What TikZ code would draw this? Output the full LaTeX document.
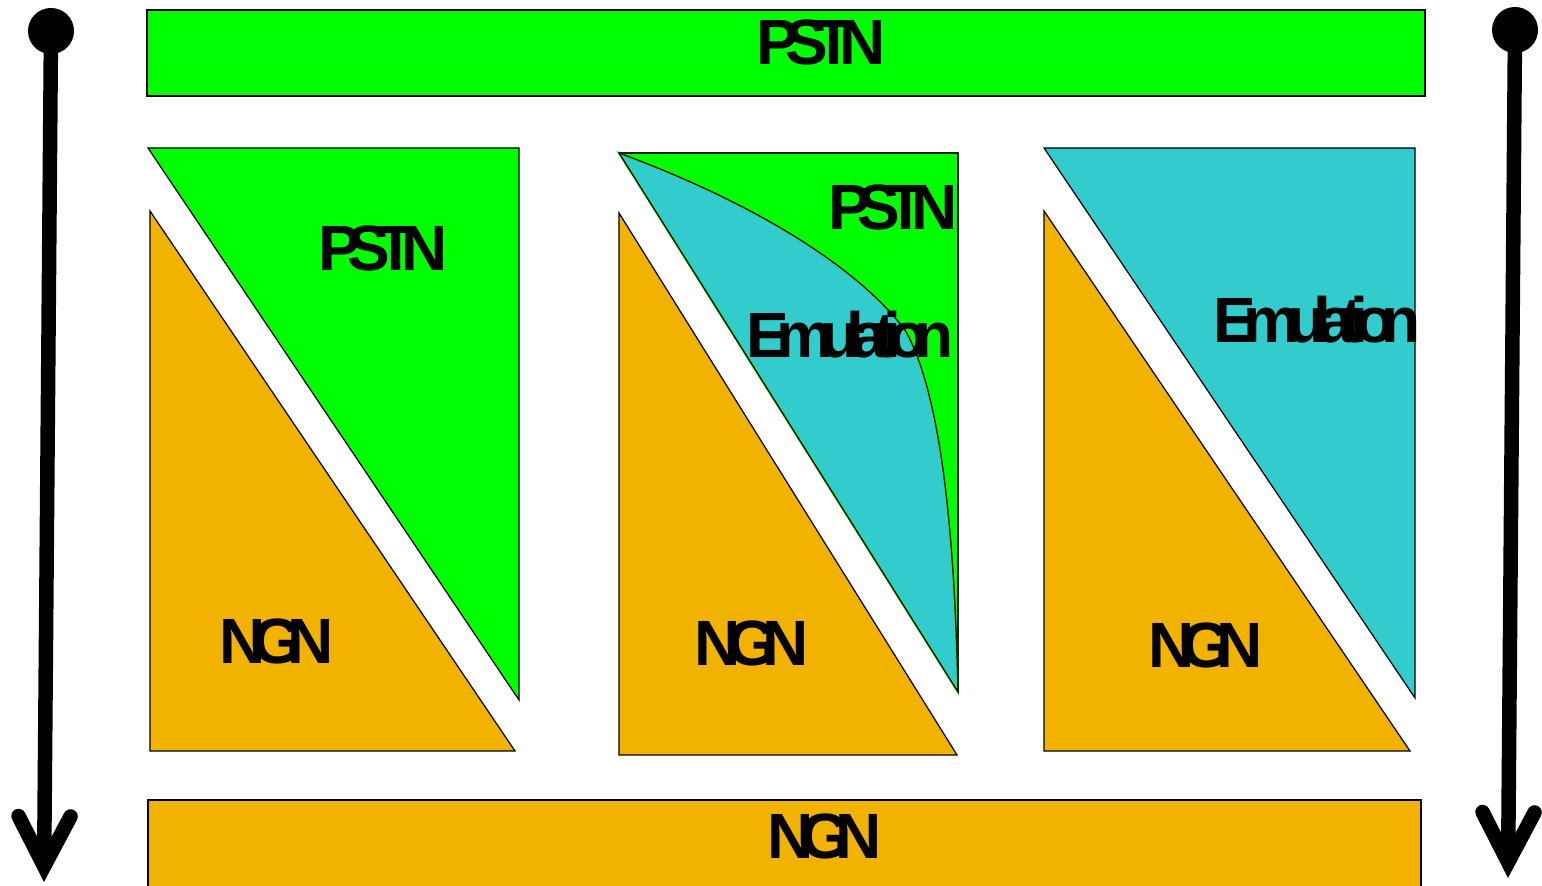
\documentclass[tikz,border=0pt]{standalone}
\usepackage{fontspec}
\usetikzlibrary{arrows.meta}
\newfontfamily\lblfont[LetterSpace=-22]{Liberation Sans}
\newfontfamily\emufont[LetterSpace=-20]{Liberation Sans}
\definecolor{pstngreen}{RGB}{0,255,0}
\definecolor{emucyan}{RGB}{51,204,204}
\definecolor{ngnorange}{RGB}{242,178,0}
\begin{document}
\begin{tikzpicture}[x=0.01cm,y=-0.01cm,
    part/.style={draw=black, line width=0.35pt},
    lbl/.style={inner sep=0pt, font=\lblfont\bfseries\fontsize{18.2pt}{18.2pt}\selectfont},
    emulbl/.style={lbl, font=\emufont\bfseries\fontsize{18.2pt}{18.2pt}\selectfont},
    dot/.style={circle, fill=black, inner sep=0pt, minimum size=0.46cm},
    flow/.style={line width=0.145cm,
        -{Straight Barb[length=5mm, width=5.2mm, line cap=round, line join=miter]}}]
    \useasboundingbox (0,0) rectangle (1542,886);
    % bands
    \draw [part, fill=pstngreen] (147,10) rectangle (1425,96);
    \draw [part, fill=ngnorange] (148,800) rectangle (1421,889);
    \node [lbl] (toppstn) at (821,42) {PSTN};
    \node [lbl] (botngn) at (825,836) {NGN};
    % first stage
    \draw [part, fill=pstngreen] (148,148) -- (519,148) -- (519,700) -- cycle;
    \draw [part, fill=ngnorange] (150,211) -- (150,751) -- (515,751) -- cycle;
    \node [lbl] (pstna) at (383,248) {PSTN};
    \node [lbl] (ngna) at (277,641) {NGN};
    % second stage
    \draw [part, fill=pstngreen] (619,153) -- (958,153) -- (958,692) -- cycle;
    \fill [emucyan, draw=pstngreen, line width=0.6pt] (619,153) -- (958,692)
        .. controls (955,560) and (945,400) .. (905,330)
        .. controls (860,270) and (760,205) .. (619,153) -- cycle;
    \draw [part] (619,153) .. controls (760,205) and (860,270) .. (905,330)
        .. controls (945,400) and (955,560) .. (958,692);
    \draw [part] (619,153) -- (958,153) -- (958,692) -- cycle;
    \draw [part, fill=ngnorange] (619,213) -- (619,755) -- (957,755) -- cycle;
    \node [lbl] (pstnb) at (893,207) {PSTN};
    \node [emulbl] (emub) at (850,335) {Emulation};
    \node [lbl] (ngnb) at (752,643) {NGN};
    % third stage
    \draw [part, fill=emucyan] (1044,148) -- (1415,148) -- (1415,698) -- cycle;
    \draw [part, fill=ngnorange] (1044,211) -- (1044,751) -- (1410,751) -- cycle;
    \node [emulbl] (emuc) at (1317,320) {Emulation};
    \node [lbl] (ngnc) at (1206,645) {NGN};
    % time arrows
    \node [dot] (ltop) at (51,31) {};
    \coordinate (lbot) at (44,882);
    \draw [flow] (ltop.center) -- (lbot);
    \node [dot] (rtop) at (1515,30) {};
    \coordinate (rbot) at (1508,878);
    \draw [flow] (rtop.center) -- (rbot);
\end{tikzpicture}
\end{document}
